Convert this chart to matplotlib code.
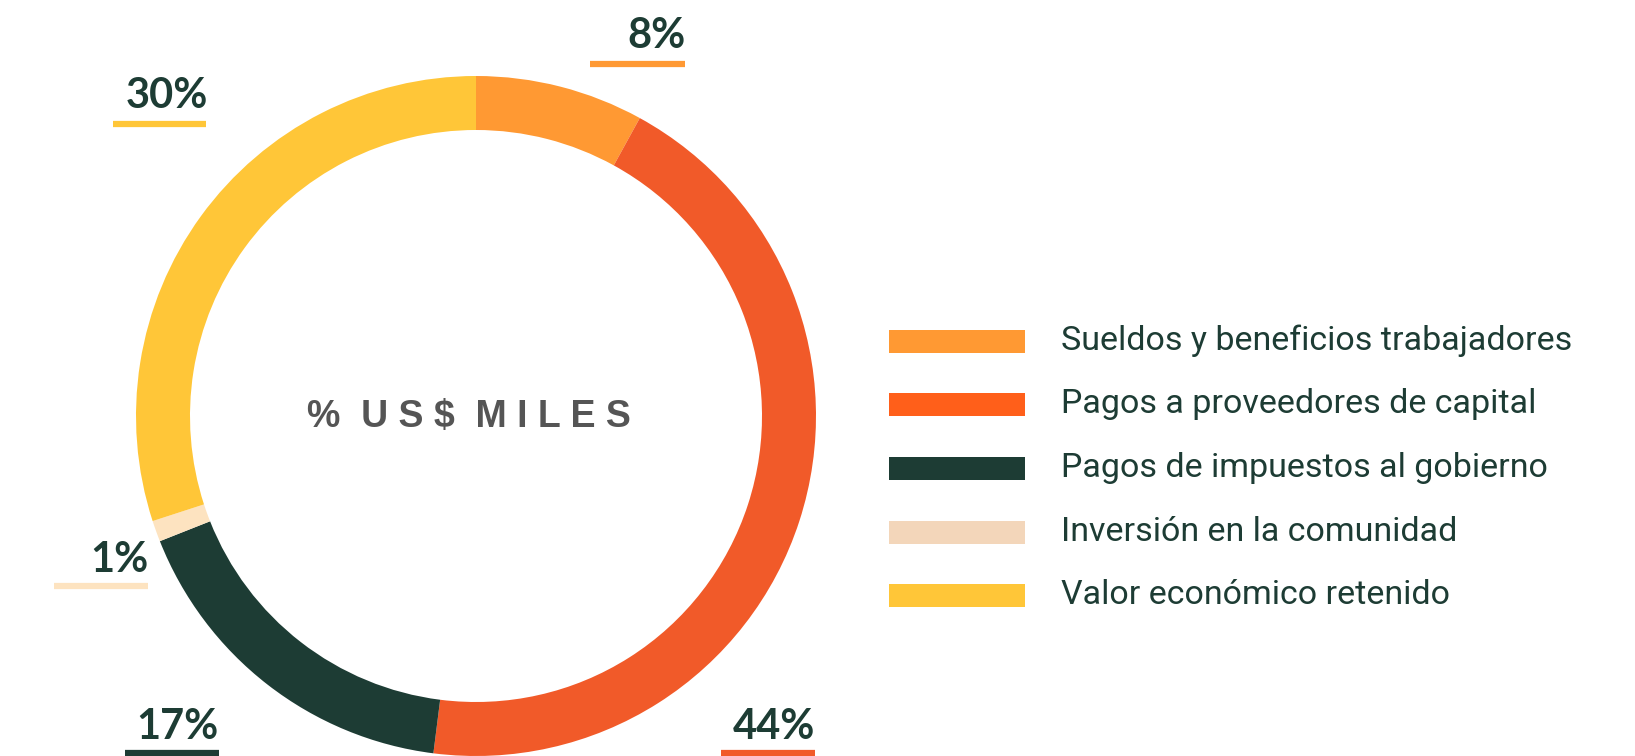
import matplotlib
matplotlib.use("Agg")
import matplotlib.pyplot as plt
from matplotlib.patches import Rectangle

categories = ["Sueldos y beneficios trabajadores",
              "Pagos a proveedores de capital",
              "Pagos de impuestos al gobierno",
              "Inversión en la comunidad",
              "Valor económico retenido"]
shares = [8, 44, 17, 1, 30]
pct_labels = ["8%", "44%", "17%", "1%", "30%"]

ring_colors   = ["#FF9933", "#F15A29", "#1D3C34", "#FDE3C0", "#FFC638"]
legend_colors = ["#FF9933", "#FF5F1A", "#1D3C34", "#F3D6BA", "#FFC638"]
text_color    = "#1D3C34"

W, H = 1635, 756

fig = plt.figure(figsize=(W / 100, H / 100), dpi=100)
ax = fig.add_axes([0, 0, 1, 1])

# donut, pixel coordinates (y measured from the bottom)
cx, cy, r_out = 476, H - 416, 340
ax.pie(shares, colors=ring_colors, startangle=90, counterclock=False,
       center=(cx, cy), radius=r_out,
       wedgeprops=dict(width=54, linewidth=0))

ax.text(cx - 7, cy - 1, "%  U S $  M I L E S", ha="center", va="center",
        fontsize=27, fontweight="bold", color="#555555",
        family=["Liberation Sans", "DejaVu Sans"])

# percentage labels with underline: (text right x, text y, line left, line right, line y)
label_pos = {
    "8%":  (686, 36, 590, 685, 64),
    "44%": (815, 727, 721, 815, 753),
    "17%": (219, 727, 125, 219, 753),
    "1%":  (149, 560, 54, 148, 586),
    "30%": (208, 96, 113, 206, 124),
}
for lab, col in zip(pct_labels, ring_colors):
    tx, ty, x0, x1, ly = label_pos[lab]
    ax.text(tx, H - ty, lab, ha="right", va="center", fontsize=30,
            fontweight="bold", color=text_color, family=["Lato", "DejaVu Sans"])
    ax.plot([x0, x1], [H - ly, H - ly], color=col, linewidth=4.5, solid_capstyle="butt")

# legend
leg_y = [341, 404, 468, 532, 595]
for name, col, y in zip(categories, legend_colors, leg_y):
    ax.add_patch(Rectangle((889, H - y - 11.5), 136, 23, color=col, linewidth=0))
    ax.text(1061, H - y, name, ha="left", va="center", fontsize=24.5,
            color=text_color, family=["Roboto", "DejaVu Sans"])

ax.set_xlim(0, W)
ax.set_ylim(0, H)
ax.set_aspect("equal")
ax.axis("off")

plt.savefig("out.png", dpi=100)
plt.close()
